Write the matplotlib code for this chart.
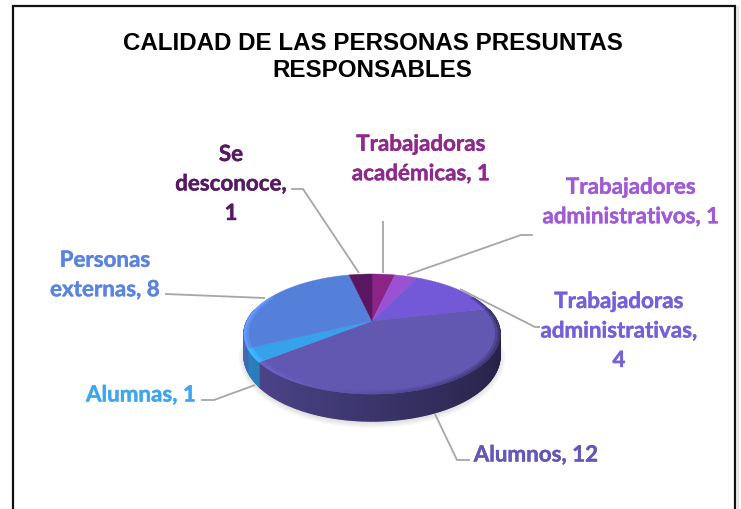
import numpy as np
import matplotlib
matplotlib.use('Agg')
import matplotlib.pyplot as plt
import matplotlib.patheffects as pe
from matplotlib.collections import PolyCollection
from matplotlib.colors import to_rgb
from matplotlib.patches import Ellipse

titulo = 'CALIDAD DE LAS PERSONAS PRESUNTAS\nRESPONSABLES'
categorias = ['Trabajadoras\nacadémicas, 1', 'Trabajadores\nadministrativos, 1',
              'Trabajadoras\nadministrativas,\n4', 'Alumnos, 12', 'Alumnas, 1',
              'Personas\nexternas, 8', 'Se\ndesconoce,\n1']
valores = [1, 1, 4, 12, 1, 8, 1]
colores = ['#8C2488', '#9A52D2', '#7359D8', '#6258B2', '#36A2EC', '#5580DA', '#5A1660']
colores_texto = ['#8E2A8C', '#A05AD6', '#7460DA', '#6258B8', '#3EA6F0', '#5A84DE', '#561A62']

pos_texto = [(421, 160), (631, 203), (619, 332), (536, 456), (141, 396), (105, 276), (231, 185)]
guias = [[(383, 222), (383, 274)],
         [(533, 236), (521, 236), (407, 276)],
         [(540, 328), (535, 328), (460, 290)],
         [(470, 461), (457, 461), (435, 415)],
         [(201, 401), (214, 401), (255, 386)],
         [(165, 295), (265, 299)],
         [(291, 190), (303, 190), (359, 274)]]

cx, cy = 372, 322
a, b, p = 57.2, 125.0, 0.2167


def punto(theta, r=1.0, alto=0.0):
    t = np.radians(theta)
    u, v = r * np.cos(t), r * np.sin(t)
    w = 1 + p * v
    d = alto * (20 + 7 * np.clip(-v, 0, 1))
    return cx + b * u / w, cy - a * v / w + d


def oscurecer(color, f):
    return tuple(np.clip(np.array(to_rgb(color)) * f, 0, 1))


fig = plt.figure(figsize=(7.41, 5.10), dpi=100)
ax = fig.add_axes([0, 0, 1, 1])
ax.set_xlim(0, 741)
ax.set_ylim(510, 0)
ax.axis('off')

# marco
ax.plot([12.5, 12.5, 735, 735], [520, 6.5, 6.5, 520], color='#111111', lw=1.6, solid_joinstyle='miter')
ax.plot([737.5, 737.5], [8, 520], color='#e2e2e2', lw=1.5)

ax.text(372.5, 57, titulo, ha='center', va='center', fontsize=17.35, fontweight='bold',
        family='Liberation Sans', color='black', linespacing=1.24)

# sombra
for k in range(8):
    ax.add_patch(Ellipse((372, 359), 2 * (133 - k * 1.2), 2 * (70 - k * 1.2),
                         color='#888888', alpha=0.05, lw=0, zorder=1))

limites = 90 - np.cumsum([0] + valores) / sum(valores) * 360

# costado
quads, caras = [], []
for i, color in enumerate(colores):
    angulos = np.linspace(limites[i], limites[i + 1], max(4, int(valores[i] * 14)))
    for t0, t1 in zip(angulos[:-1], angulos[1:]):
        tm = (t0 + t1) / 2
        if np.sin(np.radians(tm)) > 0.2:
            continue
        quads.append([punto(t0), punto(t1), punto(t1, alto=1), punto(t0, alto=1)])
        u = np.cos(np.radians(tm))
        caras.append(oscurecer(color, 0.82 - 0.44 * (u + 1) / 2))
ax.add_collection(PolyCollection(quads, facecolors=caras, edgecolors='face', linewidths=1.0, zorder=2))

# cara superior
for i, color in enumerate(colores):
    t = np.linspace(limites[i], limites[i + 1], max(6, valores[i] * 14))
    x, y = punto(t)
    ax.fill(np.r_[cx, x], np.r_[cy, y], color=color, lw=0.3, zorder=3)

# bisel del borde
quads, caras = [], []
for i, color in enumerate(colores):
    angulos = np.linspace(limites[i], limites[i + 1], max(4, int(valores[i] * 14)))
    for t0, t1 in zip(angulos[:-1], angulos[1:]):
        tm = (t0 + t1) / 2
        s, u = np.sin(np.radians(tm)), np.cos(np.radians(tm))
        if s > 0.45:
            continue
        f = 1.22 - 0.62 * (u + 1) / 2
        quads.append([punto(t0, 0.965), punto(t1, 0.965), punto(t1, 0.985), punto(t0, 0.985)])
        caras.append(oscurecer(color, (f + 1) / 2))
        quads.append([punto(t0, 0.985), punto(t1, 0.985), punto(t1, 1.0), punto(t0, 1.0)])
        caras.append(oscurecer(color, f))
ax.add_collection(PolyCollection(quads, facecolors=caras, edgecolors='face', linewidths=0.3, zorder=4))

# guias y etiquetas
for guia in guias:
    xs, ys = zip(*guia)
    ax.plot(xs, ys, color='#A6A6A6', lw=1.3, zorder=5, solid_capstyle='butt')

for etiqueta, pos, color in zip(categorias, pos_texto, colores_texto):
    ax.text(pos[0], pos[1], etiqueta, ha='center', va='center', fontsize=16.1, fontweight='bold',
            family='Lato', color=color, linespacing=1.5, zorder=6,
            path_effects=[pe.withStroke(linewidth=0.3, foreground=color)])

fig.savefig('out.png', dpi=100, facecolor='white')
